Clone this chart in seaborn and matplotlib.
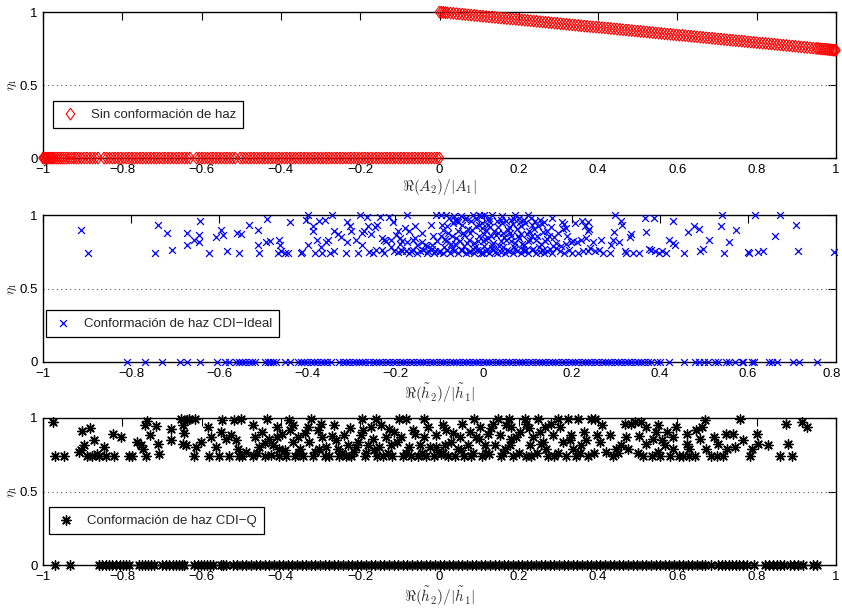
import matplotlib
matplotlib.use("Agg")
import matplotlib.pyplot as plt
import matplotlib.transforms as mtrans
import seaborn as sns

# ---------------- Sin conformación de haz ----------------
sin_x_neg = [-1.0, -0.998, -0.996, -0.993, -0.99, -0.987, -0.983, -0.979, -0.975, -0.971,
             -0.966, -0.961, -0.956, -0.951, -0.946, -0.94, -0.934, -0.928, -0.922, -0.916,
             -0.91, -0.903, -0.896, -0.889, -0.882, -0.875, -0.868, -0.861, -0.846, -0.839,
             -0.832, -0.825, -0.818, -0.811, -0.804, -0.797, -0.79, -0.783, -0.776, -0.769,
             -0.762, -0.755, -0.748, -0.741, -0.734, -0.727, -0.72, -0.713, -0.706, -0.699,
             -0.692, -0.685, -0.678, -0.671, -0.664, -0.657, -0.65, -0.643, -0.636, -0.629,
             -0.613, -0.606, -0.599, -0.592, -0.585, -0.578, -0.571, -0.564, -0.557, -0.55,
             -0.543, -0.536, -0.529, -0.522, -0.515, -0.503, -0.496, -0.489, -0.482, -0.475,
             -0.468, -0.461, -0.454, -0.447, -0.44, -0.433, -0.426, -0.419, -0.412, -0.405,
             -0.398, -0.391, -0.384, -0.377, -0.37, -0.363, -0.356, -0.349, -0.342, -0.335,
             -0.328, -0.321, -0.314, -0.307, -0.3, -0.293, -0.286, -0.279, -0.272, -0.265,
             -0.258, -0.251, -0.244, -0.237, -0.23, -0.223, -0.216, -0.209, -0.202, -0.195,
             -0.188, -0.181, -0.174, -0.167, -0.16, -0.153, -0.146, -0.139, -0.132, -0.125,
             -0.118, -0.111, -0.104, -0.097, -0.09, -0.083, -0.076, -0.069, -0.062, -0.055,
             -0.048, -0.041, -0.034, -0.027, -0.02, -0.013, -0.006, 0.0]
sin_eta_neg = [0.0] * len(sin_x_neg)
sin_x_pos = [0.0, 0.005, 0.01, 0.015, 0.02, 0.0275, 0.035, 0.0425, 0.05, 0.0575, 0.065, 0.0725,
             0.08, 0.0875, 0.095, 0.1025, 0.11, 0.1175, 0.125, 0.1325, 0.14, 0.1475, 0.155,
             0.1625, 0.17, 0.1775, 0.185, 0.1925, 0.2, 0.2075, 0.215, 0.2225, 0.23, 0.2375,
             0.245, 0.2525, 0.26, 0.2675, 0.275, 0.2825, 0.29, 0.2975, 0.305, 0.3125, 0.32,
             0.3275, 0.335, 0.3425, 0.35, 0.3575, 0.365, 0.3725, 0.38, 0.3875, 0.395, 0.4025,
             0.41, 0.4175, 0.425, 0.4325, 0.44, 0.4475, 0.455, 0.4625, 0.47, 0.4775, 0.485,
             0.4925, 0.5, 0.5075, 0.515, 0.5225, 0.53, 0.5375, 0.545, 0.5525, 0.56, 0.5675,
             0.575, 0.5825, 0.59, 0.5975, 0.605, 0.6125, 0.62, 0.6275, 0.635, 0.6425, 0.65,
             0.6575, 0.665, 0.6725, 0.68, 0.6875, 0.695, 0.7025, 0.71, 0.7175, 0.725, 0.7325,
             0.74, 0.7475, 0.755, 0.7625, 0.77, 0.7775, 0.785, 0.7925, 0.8, 0.8075, 0.815,
             0.8225, 0.83, 0.8375, 0.845, 0.8525, 0.86, 0.8675, 0.875, 0.8825, 0.89, 0.8975,
             0.905, 0.9125, 0.92, 0.9275, 0.935, 0.9425, 0.95, 0.955, 0.96, 0.965, 0.97, 0.975,
             0.98, 0.984, 0.988, 0.992, 0.995, 0.998, 1.0]
sin_eta_pos = [1.0, 0.999, 0.997, 0.996, 0.995, 0.993, 0.991, 0.989, 0.987, 0.985, 0.983, 0.981,
               0.979, 0.977, 0.975, 0.973, 0.971, 0.969, 0.967, 0.965, 0.963, 0.961, 0.959,
               0.957, 0.955, 0.953, 0.952, 0.95, 0.948, 0.946, 0.944, 0.942, 0.94, 0.938,
               0.936, 0.934, 0.932, 0.93, 0.928, 0.926, 0.924, 0.922, 0.92, 0.918, 0.916,
               0.914, 0.912, 0.91, 0.908, 0.906, 0.904, 0.902, 0.9, 0.898, 0.897, 0.895,
               0.893, 0.891, 0.889, 0.887, 0.885, 0.883, 0.881, 0.879, 0.877, 0.875, 0.873,
               0.871, 0.869, 0.867, 0.865, 0.863, 0.861, 0.859, 0.857, 0.855, 0.853, 0.851,
               0.849, 0.847, 0.845, 0.843, 0.841, 0.84, 0.838, 0.836, 0.834, 0.832, 0.83,
               0.828, 0.826, 0.824, 0.822, 0.82, 0.818, 0.816, 0.814, 0.812, 0.81, 0.808,
               0.806, 0.804, 0.802, 0.8, 0.798, 0.796, 0.794, 0.792, 0.79, 0.788, 0.786,
               0.785, 0.783, 0.781, 0.779, 0.777, 0.775, 0.773, 0.771, 0.769, 0.767, 0.765,
               0.763, 0.761, 0.759, 0.757, 0.755, 0.753, 0.751, 0.75, 0.748, 0.747, 0.746, 0.745,
               0.743, 0.742, 0.741, 0.74, 0.739, 0.739, 0.738]

# ---------------- Conformación de haz CDI-Ideal ----------------
ideal_hi = [
    (-0.913, 0.898), (-0.898, 0.740), (-0.739, 0.935), (-0.745, 0.744), (-0.719, 0.876),
    (-0.708, 0.762), (-0.673, 0.876), (-0.673, 0.799), (-0.657, 0.828), (-0.645, 0.867),
    (-0.645, 0.814), (-0.643, 0.957), (-0.623, 0.740), (-0.608, 0.848), (-0.596, 0.898),
    (-0.592, 0.862), (-0.583, 0.753), (-0.560, 0.876), (-0.550, 0.871), (-0.554, 0.740),
    (-0.533, 0.930), (-0.512, 0.898), (-0.511, 0.799), (-0.510, 0.740), (-0.492, 0.973),
    (-0.493, 0.814), (-0.485, 0.821), (-0.464, 0.828), (-0.463, 0.799), (-0.467, 0.740),
    (-0.459, 0.753), (-0.451, 0.740), (-0.444, 0.740), (-0.439, 0.955), (-0.415, 0.740),
    (-0.411, 0.746), (-0.404, 0.966), (-0.399, 0.998), (-0.398, 0.799), (-0.387, 0.923),
    (-0.387, 0.889), (-0.383, 0.740), (-0.378, 0.833), (-0.373, 0.957), (-0.369, 0.783),
    (-0.367, 0.740), (-0.360, 0.966), (-0.357, 0.814), (-0.354, 0.828), (-0.349, 0.740),
    (-0.345, 0.998), (-0.340, 0.889), (-0.339, 0.753), (-0.331, 0.871), (-0.323, 0.853),
    (-0.313, 0.740), (-0.309, 0.955), (-0.309, 0.814), (-0.303, 0.923), (-0.300, 0.889),
    (-0.290, 0.833), (-0.285, 0.740), (-0.281, 0.998), (-0.277, 0.878), (-0.275, 0.799),
    (-0.271, 0.889), (-0.264, 0.985), (-0.262, 0.923), (-0.255, 0.871), (-0.250, 0.744),
    (-0.247, 0.916), (-0.241, 0.935), (-0.235, 0.985), (-0.230, 0.844), (-0.227, 0.744),
    (-0.225, 0.833), (-0.222, 0.821), (-0.214, 0.985), (-0.209, 0.833), (-0.203, 0.753),
    (-0.199, 0.867), (-0.194, 0.889), (-0.190, 0.844), (-0.184, 0.753), (-0.179, 0.912),
    (-0.177, 0.753), (-0.173, 0.998), (-0.169, 0.889), (-0.173, 0.814), (-0.165, 0.753),
    (-0.155, 0.923), (-0.155, 0.844), (-0.150, 0.799), (-0.145, 0.753), (-0.139, 0.814),
    (-0.133, 0.799), (-0.125, 0.753), (-0.120, 0.935), (-0.116, 0.799), (-0.110, 0.753),
    (-0.108, 0.998), (-0.105, 0.821), (-0.195, 0.745), (-0.188, 0.760), (-0.170, 0.742),
    (-0.160, 0.765), (-0.150, 0.742), (-0.138, 0.760), (-0.128, 0.742), (-0.118, 0.770),
    (-0.112, 0.742), (-0.102, 0.745), (-0.190, 0.800), (-0.185, 0.820), (-0.160, 0.830),
    (-0.140, 0.880), (-0.128, 0.790), (-0.115, 0.860),
    (-0.097, 0.998), (-0.086, 0.998), (-0.078, 0.980), (-0.064, 0.969), (-0.052, 0.991),
    (-0.039, 0.980), (-0.025, 0.998), (-0.011, 0.998), (-0.006, 0.991), (0.002, 0.998),
    (0.013, 0.980), (0.020, 0.998), (0.039, 0.969), (0.051, 0.957), (0.062, 0.969),
    (0.072, 0.998), (0.081, 0.980), (0.092, 0.969), (0.102, 0.998), (0.108, 0.980),
    (0.127, 0.969), (0.138, 0.953), (0.155, 0.980), (0.183, 0.939), (0.187, 0.912),
    (-0.093, 0.901), (-0.082, 0.923), (-0.070, 0.946), (-0.059, 0.889), (-0.048, 0.935),
    (-0.036, 0.907), (-0.029, 0.957), (-0.017, 0.923), (-0.004, 0.946), (0.005, 0.901),
    (0.011, 0.935), (0.024, 0.894), (0.032, 0.916), (0.043, 0.946), (0.055, 0.901),
    (0.066, 0.939), (0.075, 0.907), (0.085, 0.923), (0.095, 0.946), (0.104, 0.889),
    (0.115, 0.907), (0.123, 0.923), (0.134, 0.885), (0.145, 0.894), (0.161, 0.848),
    (0.181, 0.907),
    (-0.097, 0.855), (-0.086, 0.821), (-0.074, 0.803), (-0.063, 0.844), (-0.054, 0.821),
    (-0.044, 0.867), (-0.033, 0.833), (-0.021, 0.810), (-0.010, 0.855), (-0.001, 0.821),
    (0.009, 0.844), (0.019, 0.799), (0.028, 0.867), (0.039, 0.821), (0.051, 0.833),
    (0.062, 0.855), (0.072, 0.810), (0.081, 0.844), (0.092, 0.799), (0.100, 0.821),
    (0.111, 0.855), (0.120, 0.833), (0.130, 0.803), (0.140, 0.821), (0.149, 0.855),
    (0.164, 0.810), (0.176, 0.787), (0.187, 0.803), (0.198, 0.817),
    (-0.099, 0.753), (-0.092, 0.740), (-0.084, 0.765), (-0.077, 0.742), (-0.067, 0.753),
    (-0.059, 0.740), (-0.049, 0.765), (-0.040, 0.740), (-0.031, 0.753), (-0.022, 0.740),
    (-0.014, 0.765), (-0.006, 0.742), (-0.001, 0.740), (0.005, 0.758), (0.013, 0.740),
    (0.022, 0.765), (0.030, 0.740), (0.039, 0.749), (0.048, 0.740), (0.057, 0.758),
    (0.066, 0.740), (0.075, 0.753), (0.085, 0.740), (0.092, 0.753), (0.102, 0.740),
    (0.111, 0.765), (0.119, 0.740), (0.128, 0.749), (0.138, 0.740), (0.145, 0.758),
    (0.155, 0.740), (0.164, 0.776), (0.173, 0.753), (0.183, 0.740), (0.193, 0.765),
    (0.201, 0.740),
    (-0.090, 0.780), (-0.070, 0.775), (-0.045, 0.790), (-0.020, 0.780), (0.000, 0.790),
    (0.020, 0.775), (0.045, 0.785), (0.070, 0.780), (0.090, 0.770), (-0.080, 0.880),
    (-0.060, 0.960), (-0.030, 0.875), (0.000, 0.870), (0.030, 0.960), (0.060, 0.880),
    (0.085, 0.870), (-0.010, 0.930), (0.015, 0.915), (0.045, 0.875), (0.110, 0.930),
    (0.125, 0.780), (0.150, 0.770),
    (-0.095, 0.930), (-0.088, 0.840), (-0.083, 0.760), (-0.072, 0.860), (-0.068, 0.990),
    (-0.065, 0.800), (-0.057, 0.950), (-0.052, 0.760), (-0.047, 0.880), (-0.043, 0.970),
    (-0.038, 0.810), (-0.034, 0.750), (-0.027, 0.900), (-0.024, 0.770), (-0.018, 0.970),
    (-0.012, 0.820), (-0.008, 0.760), (-0.003, 0.910), (0.003, 0.840), (0.008, 0.770),
    (0.012, 0.960), (0.017, 0.860), (0.022, 0.810), (0.026, 0.750), (0.033, 0.880),
    (0.036, 0.790), (0.041, 0.990), (0.047, 0.850), (0.053, 0.760), (0.058, 0.920),
    (0.063, 0.820), (0.068, 0.970), (0.071, 0.770), (0.078, 0.860), (0.083, 0.950),
    (0.088, 0.800), (0.096, 0.760), (0.098, 0.870), (0.106, 0.830), (0.113, 0.770),
    (0.117, 0.960), (0.122, 0.860), (0.132, 0.940), (0.136, 0.760), (0.143, 0.840),
    (0.152, 0.920), (0.158, 0.790), (0.168, 0.880), (0.178, 0.950), (0.190, 0.860),
    (-0.230, 0.760), (-0.210, 0.780), (-0.245, 0.760), (-0.260, 0.750), (-0.205, 0.950),
    (0.207, 0.944), (0.223, 0.962), (0.230, 0.923), (0.237, 0.951), (0.237, 0.889),
    (0.239, 0.905), (0.233, 0.844), (0.221, 0.828), (0.211, 0.814), (0.202, 0.821),
    (0.214, 0.740), (0.225, 0.753), (0.237, 0.753), (0.242, 0.776), (0.249, 0.814),
    (0.254, 0.753), (0.267, 0.828), (0.263, 0.765), (0.272, 0.740), (0.286, 0.740),
    (0.289, 0.799), (0.293, 0.828), (0.295, 0.885), (0.298, 0.998), (0.308, 0.814),
    (0.312, 0.962), (0.314, 0.930), (0.320, 0.753), (0.323, 0.740), (0.333, 0.848),
    (0.334, 0.871), (0.340, 0.740), (0.352, 0.740), (0.366, 0.978), (0.369, 0.885),
    (0.375, 0.771), (0.379, 0.765), (0.386, 0.978), (0.390, 0.753), (0.399, 0.740),
    (0.405, 0.753), (0.414, 0.740), (0.422, 0.833), (0.430, 0.810), (0.429, 0.962),
    (0.434, 0.794), (0.455, 0.740), (0.464, 0.885), (0.478, 0.923), (0.489, 0.907),
    (0.492, 0.753), (0.498, 0.771), (0.511, 0.828), (0.542, 0.998), (0.540, 0.923),
    (0.545, 0.740), (0.556, 0.814), (0.572, 0.896), (0.600, 0.751), (0.603, 0.740),
    (0.616, 0.998), (0.624, 0.751), (0.635, 0.753), (0.662, 0.858), (0.672, 0.998),
    (0.709, 0.935), (0.714, 0.753), (0.795, 0.746),
]
ideal_x_zero = [
    -0.81, -0.768, -0.73, -0.688, -0.673, -0.643, -0.605, -0.586, -0.578, -0.563, -0.556,
    -0.548, -0.541, -0.533, -0.526, -0.518, -0.497, -0.49, -0.484, -0.478, -0.47, -0.45,
    -0.44, -0.422, -0.415, -0.408, -0.4, -0.392, -0.385, -0.378, -0.37, -0.362, -0.355,
    -0.346, -0.327, -0.32, -0.312, -0.305, -0.297, -0.29, -0.282, -0.275, -0.268, -0.26,
    -0.252, -0.245, -0.238, -0.23, -0.222, -0.215, -0.206, -0.198, -0.19, -0.183, -0.175,
    -0.168, -0.16, -0.152, -0.145, -0.137, -0.13, -0.122, -0.115, -0.107, -0.1, -0.092,
    -0.085, -0.077, -0.07, -0.062, -0.055, -0.047, -0.04, -0.032, -0.025, -0.017, -0.01,
    -0.002, 0.005, 0.013, 0.02, 0.028, 0.035, 0.043, 0.05, 0.058, 0.065, 0.073, 0.08,
    0.088, 0.095, 0.103, 0.11, 0.118, 0.125, 0.133, 0.14, 0.148, 0.155, 0.163, 0.17,
    0.178, 0.185, 0.193, 0.2, 0.208, 0.215, 0.223, 0.23, 0.238, 0.245, 0.253, 0.26,
    0.268, 0.275, 0.283, 0.29, 0.298, 0.305, 0.313, 0.32, 0.328, 0.335, 0.343, 0.35,
    0.358, 0.365, 0.373, 0.38, 0.393, 0.4, 0.42, 0.454, 0.48, 0.49, 0.5, 0.51, 0.526,
    0.533, 0.55, 0.556, 0.57, 0.586, 0.59, 0.61, 0.613, 0.647, 0.655, 0.666, 0.702,
    0.717, 0.757,
]

# ---------------- Conformación de haz CDI-Q ----------------
q_hi = [
    (-0.976, 0.973), (-0.970, 0.742), (-0.947, 0.742), (-0.902, 0.912), (-0.881, 0.932),
    (-0.896, 0.814), (-0.871, 0.848), (-0.905, 0.780), (-0.909, 0.769), (-0.888, 0.742),
    (-0.877, 0.742), (-0.863, 0.758), (-0.859, 0.742), (-0.846, 0.803), (-0.842, 0.742),
    (-0.823, 0.894), (-0.821, 0.742), (-0.804, 0.871), (-0.783, 0.742), (-0.776, 0.742),
    (-0.762, 0.837), (-0.753, 0.814), (-0.749, 0.792), (-0.741, 0.742), (-0.742, 0.950),
    (-0.737, 0.978), (-0.731, 0.882), (-0.714, 0.946), (-0.711, 0.821), (-0.707, 0.758),
    (-0.678, 0.923), (-0.678, 0.848), (-0.652, 0.996), (-0.648, 0.950), (-0.644, 0.900),
    (-0.648, 0.826), (-0.640, 0.814), (-0.636, 0.984), (-0.631, 0.996), (-0.616, 0.996),
    (-0.614, 0.803), (-0.619, 0.742), (-0.602, 0.837), (-0.585, 0.939), (-0.577, 0.871),
    (-0.582, 0.742), (-0.564, 0.803), (-0.556, 0.742), (-0.549, 0.984), (-0.551, 0.905),
    (-0.539, 0.860), (-0.530, 0.742), (-0.526, 0.882), (-0.518, 0.984), (-0.513, 0.848),
    (-0.507, 0.792), (-0.505, 0.742), (-0.501, 0.996), (-0.497, 0.742), (-0.488, 0.769),
    (-0.471, 0.742), (-0.465, 0.871), (-0.455, 0.803), (-0.448, 0.905), (-0.439, 0.742),
    (-0.434, 0.996), (-0.429, 0.860), (-0.421, 0.814), (-0.411, 0.939), (-0.406, 0.792),
    (-0.404, 0.742), (-0.396, 0.894), (-0.386, 0.742), (-0.379, 0.984), (-0.377, 0.916),
    (-0.370, 0.837), (-0.364, 0.742), (-0.358, 0.871), (-0.352, 0.792), (-0.345, 0.742),
    (-0.332, 0.939), (-0.328, 0.837), (-0.324, 0.996), (-0.318, 0.742), (-0.307, 0.916),
    (-0.303, 0.792), (-0.296, 0.871), (-0.290, 0.742), (-0.278, 0.742), (-0.265, 0.950),
    (-0.261, 0.848), (-0.257, 0.792), (-0.253, 0.742), (-0.242, 0.882), (-0.237, 0.742),
    (-0.231, 0.814), (-0.223, 0.742), (-0.215, 0.769), (-0.206, 0.837), (-0.198, 0.882),
    (-0.195, 0.996), (-0.192, 0.916), (-0.189, 0.742), (-0.181, 0.814), (-0.173, 0.939),
    (-0.168, 0.860), (-0.160, 0.996), (-0.158, 0.742), (-0.152, 0.803), (-0.143, 0.742),
    (-0.135, 0.871), (-0.128, 0.928), (-0.122, 0.814), (-0.120, 0.742), (-0.114, 0.905),
    (-0.101, 0.996), (-0.097, 0.871), (-0.091, 0.742), (-0.084, 0.996), (-0.077, 0.803),
    (-0.072, 0.742), (-0.061, 0.894), (-0.055, 0.742), (-0.049, 0.814), (-0.038, 0.996),
    (-0.038, 0.871), (-0.034, 0.742), (-0.025, 0.803), (-0.015, 0.742), (-0.008, 0.882),
    (-0.004, 0.769),
    (0.008, 0.950), (0.017, 0.916), (0.013, 0.814), (0.004, 0.758), (0.021, 0.742),
    (0.029, 0.837), (0.038, 0.742), (0.046, 0.792), (0.052, 0.871), (0.057, 0.962),
    (0.063, 0.742), (0.072, 0.814), (0.076, 0.905), (0.080, 0.742), (0.088, 0.996),
    (0.093, 0.871), (0.101, 0.939), (0.108, 0.742), (0.114, 0.814), (0.122, 0.894),
    (0.126, 0.758), (0.135, 0.962), (0.139, 0.814), (0.147, 0.996), (0.152, 0.882),
    (0.156, 0.742), (0.164, 0.792), (0.168, 0.950), (0.175, 0.996), (0.177, 0.814),
    (0.181, 0.939), (0.185, 0.742), (0.194, 0.871), (0.202, 0.905), (0.215, 0.996),
    (0.217, 0.962), (0.219, 0.742), (0.227, 0.814), (0.231, 0.742), (0.236, 0.871),
    (0.248, 0.996), (0.253, 0.905), (0.261, 0.837), (0.265, 0.939), (0.269, 0.792),
    (0.274, 0.742), (0.285, 0.882), (0.290, 0.742), (0.299, 0.996), (0.303, 0.939),
    (0.311, 0.837), (0.320, 0.742), (0.324, 0.996), (0.332, 0.882), (0.337, 0.792),
    (0.345, 0.742), (0.349, 0.996), (0.358, 0.814), (0.364, 0.905), (0.370, 0.848),
    (0.375, 0.742), (0.383, 0.996), (0.391, 0.996), (0.396, 0.882), (0.404, 0.837),
    (0.421, 0.769), (0.431, 0.882), (0.438, 0.742), (0.446, 0.792), (0.459, 0.814),
    (0.467, 0.962), (0.476, 0.792), (0.484, 0.962), (0.492, 0.973), (0.502, 0.878),
    (0.509, 0.973), (0.513, 0.742), (0.522, 0.939), (0.535, 0.742), (0.539, 0.860),
    (0.545, 0.905), (0.551, 0.950), (0.556, 0.742), (0.560, 0.848), (0.568, 0.814),
    (0.574, 0.905), (0.581, 0.742), (0.589, 0.792), (0.596, 0.939), (0.604, 0.742),
    (0.614, 0.742), (0.623, 0.894), (0.625, 0.826), (0.630, 0.742), (0.644, 0.742),
    (0.646, 0.916), (0.657, 0.860), (0.661, 0.939), (0.669, 0.984), (0.673, 0.792),
    (0.684, 0.742), (0.692, 0.871), (0.699, 0.742), (0.703, 0.826), (0.715, 0.742),
    (0.722, 0.894), (0.724, 0.792), (0.741, 0.894), (0.745, 0.803), (0.758, 0.996),
    (0.766, 0.848), (0.783, 0.742), (0.787, 0.792), (0.800, 0.894), (0.804, 0.826),
    (0.829, 0.814), (0.859, 0.742), (0.875, 0.962), (0.880, 0.826), (0.888, 0.742),
    (0.913, 0.973), (0.926, 0.939),
    (-0.470, 0.950), (-0.460, 0.760), (-0.440, 0.830), (-0.425, 0.750), (-0.410, 0.870),
    (-0.390, 0.780), (-0.370, 0.950), (-0.355, 0.760), (-0.340, 0.900), (-0.315, 0.770),
    (-0.300, 0.960), (-0.285, 0.800), (-0.270, 0.880), (-0.245, 0.760), (-0.225, 0.930),
    (-0.210, 0.800), (-0.185, 0.760), (-0.165, 0.780), (-0.148, 0.950), (-0.130, 0.760),
    (-0.108, 0.840), (-0.085, 0.760), (-0.068, 0.920), (-0.045, 0.760), (-0.030, 0.940),
    (-0.010, 0.800), (0.010, 0.760), (0.033, 0.900), (0.055, 0.780), (0.085, 0.760),
    (0.100, 0.860), (0.118, 0.760), (0.130, 0.930), (0.160, 0.760), (0.180, 0.860),
    (0.200, 0.760), (0.225, 0.930), (0.245, 0.760), (0.255, 0.820), (0.280, 0.960),
    (0.300, 0.760), (0.330, 0.850), (0.355, 0.760), (0.390, 0.760), (0.410, 0.950),
    (0.450, 0.760), (0.470, 0.870), (0.500, 0.760), (0.520, 0.820), (0.550, 0.770),
    (0.590, 0.870), (0.630, 0.790),
]
q_x_zero = [
    -0.969, -0.931, -0.859, -0.85, -0.842, -0.833, -0.825, -0.815, -0.806, -0.797, -0.79,
    -0.783, -0.758, -0.75, -0.742, -0.735, -0.727, -0.72, -0.699, -0.69, -0.682, -0.673,
    -0.665, -0.657, -0.65, -0.644, -0.619, -0.61, -0.602, -0.594, -0.587, -0.58, -0.572,
    -0.551, -0.545, -0.539, -0.522, -0.51, -0.499, -0.487, -0.476, -0.464, -0.452, -0.441,
    -0.429, -0.418, -0.406, -0.394, -0.383, -0.371, -0.36, -0.348, -0.336, -0.325, -0.313,
    -0.302, -0.29, -0.278, -0.267, -0.255, -0.244, -0.232, -0.22, -0.209, -0.197, -0.186,
    -0.174, -0.162, -0.151, -0.139, -0.128, -0.116, -0.104, -0.093, -0.081, -0.07, -0.058,
    -0.046, -0.035, -0.023, -0.012, 0.0, 0.012, 0.023, 0.035, 0.046, 0.058, 0.07, 0.081,
    0.093, 0.104, 0.116, 0.128, 0.139, 0.151, 0.162, 0.174, 0.186, 0.197, 0.209, 0.22,
    0.232, 0.244, 0.255, 0.267, 0.278, 0.29, 0.302, 0.313, 0.325, 0.336, 0.348, 0.36,
    0.371, 0.383, 0.394, 0.406, 0.418, 0.429, 0.441, 0.452, 0.464, 0.476, 0.487, 0.499,
    0.51, 0.522, 0.534, 0.545, 0.557, 0.568, 0.58, 0.592, 0.603, 0.615, 0.626, 0.638,
    0.65, 0.661, 0.67, 0.686, 0.703, 0.712, 0.72, 0.73, 0.738, 0.747, 0.756, 0.765,
    0.775, 0.792, 0.821, 0.83, 0.84, 0.85, 0.86, 0.87, 0.884, 0.893, 0.905, 0.918,
    0.943, 0.952,
]

labels = ["Sin conformación de haz", "Conformación de haz CDI\u2212Ideal",
          "Conformación de haz CDI\u2212Q"]
xlabels = [r"$\Re(A_2)/|A_1|$", r"$\Re(\tilde{h}_2)/|\tilde{h}_1|$",
           r"$\Re(\tilde{h}_2)/|\tilde{h}_1|$"]
xlims = [(-1, 1), (-1, 0.8), (-1, 1)]
xticks = [[-1, -0.8, -0.6, -0.4, -0.2, 0, 0.2, 0.4, 0.6, 0.8, 1],
          [-1, -0.8, -0.6, -0.4, -0.2, 0, 0.2, 0.4, 0.6, 0.8],
          [-1, -0.8, -0.6, -0.4, -0.2, 0, 0.2, 0.4, 0.6, 0.8, 1]]
yticks = [0, 0.5, 1]

sns.set_style("white")
plt.rcParams["font.family"] = ["Liberation Sans Narrow", "Liberation Sans", "DejaVu Sans"]
plt.rcParams["mathtext.fontset"] = "cm"

fig = plt.figure(figsize=(8.42, 6.13), dpi=100)
W, H = 842.0, 613.0
boxes = [(43, 12, 836, 158), (43, 215, 836, 362), (43, 418, 836, 565)]
axes = [fig.add_axes([l / W, 1 - b / H, (r - l) / W, (b - t) / H]) for (l, t, r, b) in boxes]

# MATLAB-style diamond, a little wider than matplotlib's thin diamond
diamond = [(0, 1), (0.72, 0), (0, -1), (-0.72, 0), (0, 1)]


def fmt(v):
    s = f"{round(v, 6) + 0:g}"
    return s.replace("-", "\u2212")


# Panel 1: open red diamonds
ax = axes[0]
sns.scatterplot(x=sin_x_neg + sin_x_pos, y=sin_eta_neg + sin_eta_pos, ax=ax,
                marker=diamond, s=72, color="red", linewidth=0.8, label=labels[0],
                clip_on=False, zorder=4)
coll = ax.collections[-1]
coll.set_facecolor("none")
coll.set_edgecolor("red")

# Panel 2: blue crosses
ax = axes[1]
ix = [p[0] for p in ideal_hi] + ideal_x_zero
iy = [p[1] for p in ideal_hi] + [0.0] * len(ideal_x_zero)
sns.scatterplot(x=ix, y=iy, ax=ax, marker="x", s=24, color="blue", linewidth=0.9,
                label=labels[1], clip_on=False, zorder=4)

# Panel 3: black asterisks
ax = axes[2]
qx = [p[0] for p in q_hi] + q_x_zero
qy = [p[1] for p in q_hi] + [0.0] * len(q_x_zero)
sns.scatterplot(x=qx, y=qy, ax=ax, marker=(8, 2, 0), s=46, color="black", linewidth=1.0,
                label=labels[2], clip_on=False, zorder=4)

legend_anchor = [(0.013, 0.207), (0.004, 0.17), (0.008, 0.211)]

for i, ax in enumerate(axes):
    ax.set_xlim(*xlims[i])
    ax.set_ylim(0, 1)
    ax.set_xticks(xticks[i], [fmt(v) for v in xticks[i]])
    ax.set_yticks(yticks, [fmt(v) for v in yticks])
    ax.tick_params(direction="in", top=True, right=True, length=6, width=0.8,
                   labelsize=9.5, pad=4, colors="black")
    ax.grid(False)
    ax.axhline(0.5, color="0.35", linestyle=(0, (1, 3)), linewidth=0.8, zorder=1)
    for sp in ax.spines.values():
        sp.set_visible(True)
        sp.set_color("black")
        sp.set_linewidth(1.0)
    ax.set_xlabel(xlabels[i], fontsize=11, labelpad=1, color="0.2")
    ax.set_ylabel(r"$\eta_1$", fontsize=10, labelpad=0)
    leg = ax.legend(loc="lower left", bbox_to_anchor=legend_anchor[i], frameon=True,
                    fancybox=False, edgecolor="black", framealpha=1, fontsize=9.5,
                    handletextpad=0.8, borderpad=0.55, borderaxespad=0,
                    handlelength=1.5, scatterpoints=1)
    leg.get_frame().set_linewidth(0.9)

# keep the last tick label of the middle panel inside the figure
last = axes[1].get_xticklabels()[-1]
last.set_transform(last.get_transform()
                   + mtrans.ScaledTranslation(-4 / 100, 0, fig.dpi_scale_trans))

fig.savefig("out.png", dpi=100)
